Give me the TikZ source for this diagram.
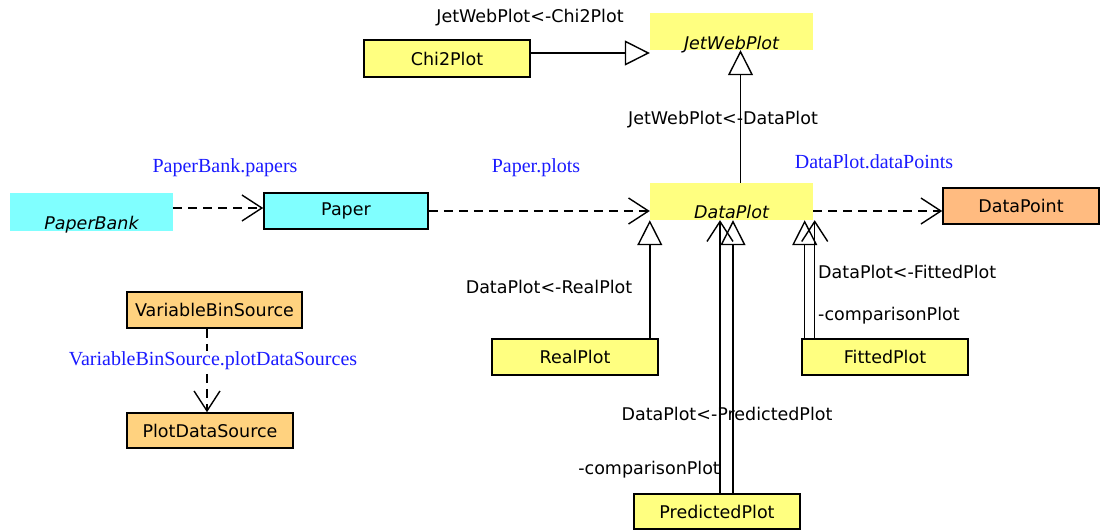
\documentclass[tikz,border=0pt]{standalone}
\usepackage{fontspec}
\setmainfont{DejaVu Sans}
\newfontfamily\rolefont{Liberation Serif}
\usepackage{tikz}
\usetikzlibrary{arrows.meta}

\definecolor{classyellow}{HTML}{FFFF80}
\definecolor{classcyan}{HTML}{80FFFF}
\definecolor{classorange}{HTML}{FFBB80}
\definecolor{classtan}{HTML}{FFD27F}
\definecolor{roleblue}{HTML}{1A1AFF}

\tikzset{
  classbox/.style={draw, line width=1.6pt, inner sep=0pt, minimum height=36pt,
    font=\fontsize{17.5}{20}\selectfont},
  abstractbox/.style={inner sep=0pt, minimum width=163pt, text height=35pt, text depth=2pt,
    font=\fontsize{17.5}{20}\selectfont\itshape},
  rolelabel/.style={inner sep=1pt, font=\fontsize{17.5}{20}\selectfont},
  assoclabel/.style={inner sep=1pt, text=roleblue, font=\rolefont\fontsize{20}{22}\selectfont},
  inherit/.style={line width=1.4pt, -{Triangle[open, length=25pt, width=25pt]}},
  assoc/.style={line width=1.4pt, -{Straight Barb[length=20pt, width=26pt]}},
  dashedassoc/.style={assoc, dash pattern=on 9pt off 6pt},
}

\begin{document}
\begin{tikzpicture}[x=1pt, y=-1pt]
\useasboundingbox (0,0) rectangle (1100,531);

% classes
\node [abstractbox, fill=classyellow, text depth=1pt, text height=36pt] (jet) at (731.5,31.5) {JetWebPlot};
\node [classbox, fill=classyellow, minimum width=166pt, minimum height=37pt] (chi) at (447,58.5) {Chi2Plot};
\node [abstractbox, fill=classyellow] (data) at (731.5,201.5) {DataPlot};
\node [abstractbox, fill=classcyan, text height=36pt] (bank) at (91.5,212) {PaperBank};
\node [classbox, fill=classcyan, minimum width=164pt] (paper) at (346,211) {Paper};
\node [classbox, fill=classorange, minimum width=156pt] (point) at (1021,206) {DataPoint};
\node [classbox, fill=classyellow, minimum width=166pt] (real) at (575,357) {RealPlot};
\node [classbox, fill=classyellow, minimum width=166pt] (fitted) at (885,357) {FittedPlot};
\node [classbox, fill=classyellow, minimum width=166pt, minimum height=35pt] (predicted) at (717,511.5) {PredictedPlot};
\node [classbox, fill=classtan, minimum width=175pt] (vbs) at (214.5,310) {VariableBinSource};
\node [classbox, fill=classtan, minimum width=166pt, minimum height=35pt] (pds) at (210,430.5) {PlotDataSource};

% generalisations
\draw [inherit] ([yshift=5.5pt]chi.east) -- ([yshift=5.5pt]chi.east -| jet.west);
\draw [inherit] ([xshift=9pt]data.north) -- ([xshift=9pt]data.north |- jet.south);
\draw [inherit] (real.north -| data.south west) -- (data.south west);
\draw [inherit] ([xshift=16pt]predicted.north) -- ([xshift=16pt]predicted.north |- data.south);
\draw [inherit] ([xshift=3.5pt]fitted.north west) -- ([xshift=3.5pt]fitted.north west |- data.south);

% associations
\draw [dashedassoc] ([yshift=4pt]bank.east) -- ([yshift=4pt]bank.east -| paper.west);
\draw [dashedassoc] (paper.east) -- (paper.east -| data.west);
\draw [dashedassoc] ([yshift=-9.5pt]data.east) -- ([yshift=-9.5pt]data.east -| point.west);
\draw [dashedassoc] ([xshift=-3pt]pds.north |- vbs.south) -- ([xshift=-3pt]pds.north);
\draw [assoc] ([xshift=3pt]predicted.north) -- ([xshift=3pt]predicted.north |- data.south);
\draw [assoc] ([xshift=13.5pt]fitted.north west) -- ([xshift=13.5pt]fitted.north west |- data.south);

% labels
\node [rolelabel] (chilabel) at (530,18) {JetWebPlot<-Chi2Plot};
\node [rolelabel] (datalabel) at (723,120) {JetWebPlot<-DataPlot};
\node [rolelabel] (reallabel) at (549,287) {DataPlot<-RealPlot};
\node [rolelabel, anchor=west] (fittedlabel) at (817,272) {DataPlot<-FittedPlot};
\node [rolelabel, anchor=west] (fittedrole) at (817,316) {-comparisonPlot};
\node [rolelabel] (predictedlabel) at (727,414) {DataPlot<-PredictedPlot};
\node [rolelabel, anchor=east] (predictedrole) at (721,470) {-comparisonPlot};
\node [assoclabel] (paperslabel) at (225,168) {PaperBank.papers};
\node [assoclabel] (plotslabel) at (536,168) {Paper.plots};
\node [assoclabel] (pointslabel) at (874,162) {DataPlot.dataPoints};
\node [assoclabel, fill=white] (sourceslabel) at (213,361) {VariableBinSource.plotDataSources};
\end{tikzpicture}
\end{document}
